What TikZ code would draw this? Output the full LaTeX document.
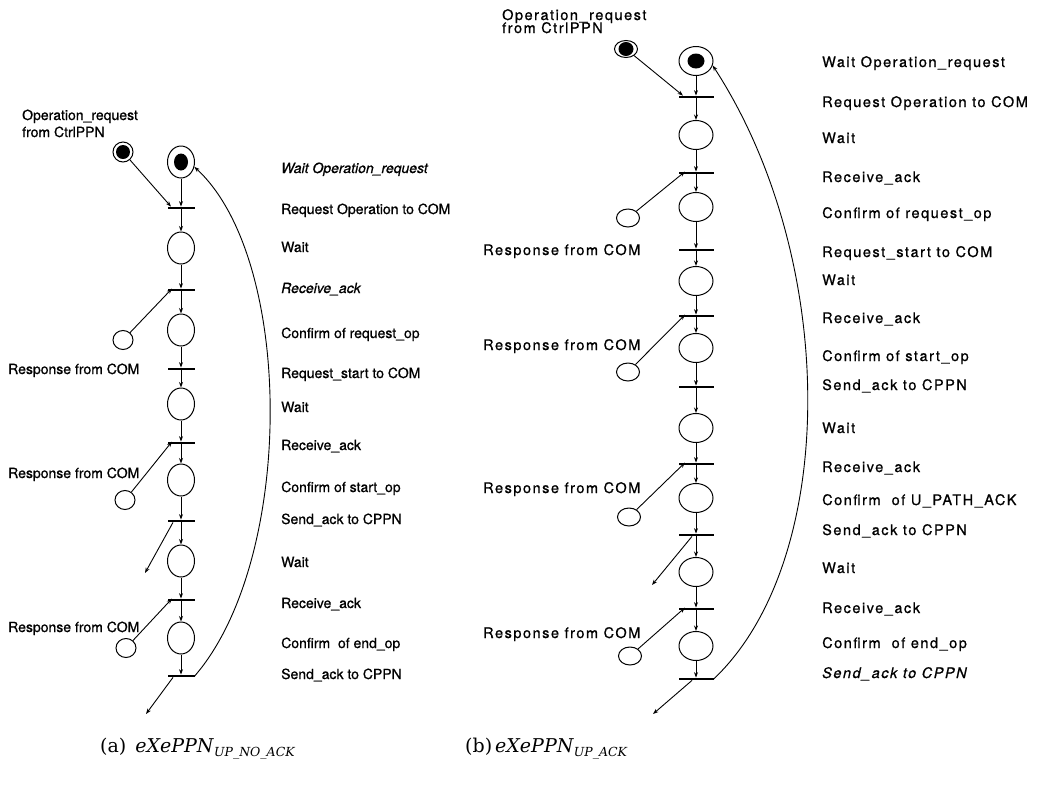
\documentclass[tikz,border=0pt]{standalone}
\usepackage{fontspec}
\setmainfont{TeX Gyre Heros}[FakeBold=0.8]
\newfontfamily\widefont[LetterSpace=10.5,FakeBold=0.8]{TeX Gyre Heros}
\newfontfamily\capfont{DejaVu Serif}
\usetikzlibrary{shapes.geometric,arrows.meta}

\tikzset{
  arr/.style={-{Stealth[length=5.5pt,width=4pt]}, line width=0.9pt},
  plA/.style={draw, ellipse, line width=1pt, inner sep=0pt, minimum width=27pt, minimum height=32pt},
  sideA/.style={draw, ellipse, line width=1pt, inner sep=0pt, minimum width=20pt, minimum height=19pt},
  extA/.style={draw, ellipse, line width=1pt, inner sep=0pt, minimum width=20pt, minimum height=20pt},
  plB/.style={draw, ellipse, line width=1pt, inner sep=0pt, minimum width=34pt, minimum height=29pt},
  sideB/.style={draw, ellipse, line width=1pt, inner sep=0pt, minimum width=23pt, minimum height=18pt},
  extB/.style={draw, ellipse, line width=1pt, inner sep=0pt, minimum width=23pt, minimum height=17pt},
  tok/.style={fill, ellipse, inner sep=0pt, draw=none},
  tbarA/.style={fill, inner sep=0pt, draw=none, minimum width=27pt, minimum height=2.4pt},
  tbarB/.style={fill, inner sep=0pt, draw=none, minimum width=35pt, minimum height=2.4pt},
  lblA/.style={anchor=west, inner sep=0pt, text height=10pt, text depth=0pt, font=\fontsize{14}{16}\selectfont},
  lblB/.style={anchor=west, inner sep=0pt, text height=10pt, text depth=0pt, font=\widefont\fontsize{14.5}{16}\selectfont},
  caption/.style={anchor=base west, inner sep=0pt, font=\capfont\fontsize{19}{22}\selectfont},
}

\begin{document}
\begin{tikzpicture}[x=1pt,y=-1pt]
\useasboundingbox (0,0) rectangle (1045,796);

% ---------------- (a) eXePPN_UP_NO_ACK ----------------
\foreach \n/\y in {pa1/162, pa2/248, pa3/330, pa4/404, pa5/480, pa6/561, pa7/638}
  \node[plA] (\n) at (181,\y) {};
\foreach \n/\y in {ta1/208, ta2/290, ta3/369, ta4/443, ta5/521, ta6/600, ta7/676}
  \node[tbarA] (\n) at (181,\y) {};
\node[tok, minimum width=14pt, minimum height=17pt] (ka) at (pa1.center) {};

\foreach \i in {1,...,7} \draw[arr] (pa\i) -- (ta\i);
\foreach \i [evaluate=\i as \j using int(\i+1)] in {1,...,6} \draw[arr] (ta\i) -- (pa\j);

% external request place
\node[extA] (ea) at (123,152) {};
\node[tok, minimum width=14pt, minimum height=14pt] (kea) at (ea.center) {};
\draw[arr] (ea) -- ([xshift=-10pt]ta1.north);

% responses from COM
\node[sideA] (sa1) at (123,340) {};
\node[sideA] (sa2) at (125,500) {};
\node[sideA] (sa3) at (126,648) {};
\draw[arr] (sa1) -- ([xshift=-9pt]ta2.north);
\draw[arr] (sa2) -- ([xshift=-9pt]ta4.north);
\draw[arr] (sa3) -- ([xshift=-9pt]ta6.north);

% acknowledgements to CPPN
\coordinate (oa1) at (145,573);
\coordinate (oa2) at (146,714);
\draw[arr] ([xshift=-8pt]ta5.south) -- (oa1);
\draw[arr] ([xshift=-8pt]ta7.south) -- (oa2);

% loop back to the initial place
\draw[arr] (ta7.east) .. controls (295,560) and (295,260) .. (pa1.-20);

% labels
\node[lblA] (opa1) at (22,115) {Operation\_request};
\node[lblA] (opa2) at (22,132) {from CtrlPPN};
\node[lblA] (ra1) at (8,369) {Response from COM};
\node[lblA] (ra2) at (8,473) {Response from COM};
\node[lblA] (ra3) at (8,627) {Response from COM};

\foreach \y/\t [count=\i] in {
  168/{\textit{Wait Operation\_request}},
  209/{Request Operation to COM},
  247/{Wait},
  288/{\textit{Receive\_ack}},
  333/{Confirm of request\_op},
  373/{Request\_start to COM},
  407/{Wait},
  445/{Receive\_ack},
  487/{Confirm of start\_op},
  519/{Send\_ack to CPPN},
  562/{Wait},
  603/{Receive\_ack},
  643/{Confirm\ \ of end\_op},
  674/{Send\_ack to CPPN}}
  \node[lblA] (sta\i) at (281,\y) {\t};

\node[caption] (capa) at (100,752) {(a)\hspace{9pt}\textit{eXePPN}\raisebox{-4pt}{\fontsize{12.5}{14}\selectfont\textit{UP\_NO\_ACK}}};

% ---------------- (b) eXePPN_UP_ACK ----------------
\foreach \n/\y in {pb1/61, pb2/135, pb3/207, pb4/281, pb5/348, pb6/428, pb7/498, pb8/572, pb9/646}
  \node[plB] (\n) at (696,\y) {};
\foreach \n/\y in {tb1/97, tb2/173, tb3/250, tb4/316, tb5/387, tb6/464, tb7/535, tb8/609, tb9/679}
  \node[tbarB] (\n) at (696,\y) {};
\node[tok, minimum width=17pt, minimum height=15pt] (kb) at (pb1.center) {};

\foreach \i in {1,...,9} \draw[arr] (pb\i) -- (tb\i);
\foreach \i [evaluate=\i as \j using int(\i+1)] in {1,...,8} \draw[arr] (tb\i) -- (pb\j);

\node[extB] (eb) at (626,49) {};
\node[tok, minimum width=15pt, minimum height=14pt] (keb) at (eb.center) {};
\draw[arr] (eb) -- ([xshift=-13pt]tb1.north);

\node[sideB] (sb1) at (628,218) {};
\node[sideB] (sb2) at (628,372) {};
\node[sideB] (sb3) at (629,517) {};
\node[sideB] (sb4) at (630,656) {};
\draw[arr] (sb1) -- ([xshift=-11pt]tb2.north);
\draw[arr] (sb2) -- ([xshift=-11pt]tb4.north);
\draw[arr] (sb3) -- ([xshift=-11pt]tb6.north);
\draw[arr] (sb4) -- ([xshift=-11pt]tb8.north);

\coordinate (ob1) at (652,585);
\coordinate (ob2) at (653,714);
\draw[arr] ([xshift=-4pt]tb7.south) -- (ob1);
\draw[arr] ([xshift=-4pt]tb9.south) -- (ob2);

\draw[arr] (tb9.east) .. controls (839,560) and (839,260) .. (pb1.-15);

\node[lblB] (opb1) at (502,15) {Operation\_request};
\node[lblB] (opb2) at (502,28) {from CtrlPPN};
\node[lblB] (rb1) at (483,250) {Response from COM};
\node[lblB] (rb2) at (483,345) {Response from COM};
\node[lblB] (rb3) at (483,488) {Response from COM};
\node[lblB] (rb4) at (483,633) {Response from COM};

\foreach \y/\t [count=\i] in {
  62/{Wait Operation\_request},
  102/{Request Operation to COM},
  138/{Wait},
  177/{Receive\_ack},
  213/{Confirm of request\_op},
  252/{Request\_start to COM},
  280/{Wait},
  318/{Receive\_ack},
  356/{Confirm of start\_op},
  385/{Send\_ack to CPPN},
  428/{Wait},
  467/{Receive\_ack},
  500/{Confirm\ \ of U\_PATH\_ACK},
  530/{Send\_ack to CPPN},
  568/{Wait},
  608/{Receive\_ack},
  643/{Confirm\ \ of end\_op},
  673/{\textit{Send\_ack to CPPN}}}
  \node[lblB] (stb\i) at (822,\y) {\t};

\node[caption] (capb) at (465,752) {(b)\hspace{3pt}\textit{eXePPN}\raisebox{-4pt}{\fontsize{12.5}{14}\selectfont\textit{UP\_ACK}}};
\end{tikzpicture}
\end{document}
